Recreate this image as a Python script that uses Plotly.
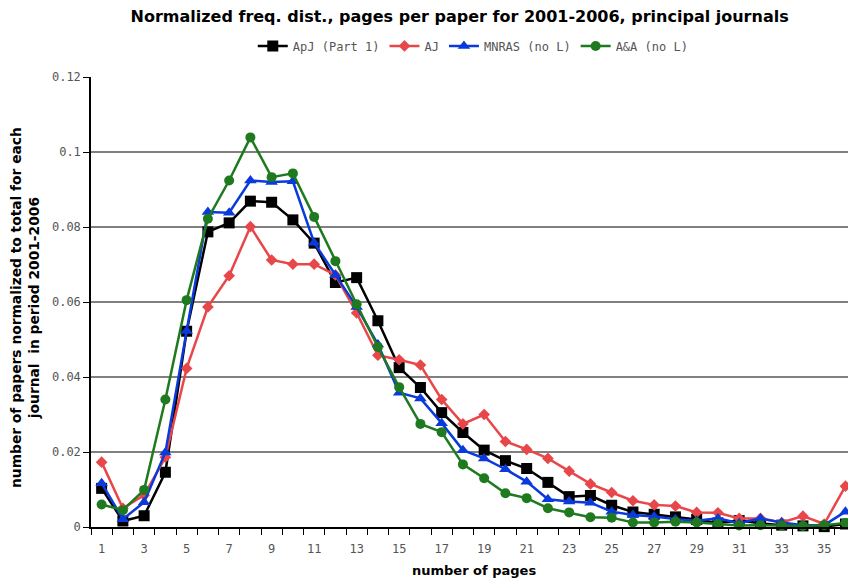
import plotly.graph_objects as go

pages = list(range(1, 37))

apj = [0.0103, 0.0016, 0.0030, 0.0146, 0.0522, 0.0787, 0.0811, 0.0869, 0.0866, 0.0819,
       0.0757, 0.0652, 0.0665, 0.0550, 0.0425, 0.0372, 0.0305, 0.0252, 0.0205, 0.0177,
       0.0156, 0.0119, 0.0081, 0.0084, 0.0058, 0.0040, 0.0034, 0.0027, 0.0020, 0.0011,
       0.0017, 0.0010, 0.0005, 0.0003, 0.0001, 0.0008]
aj = [0.0173, 0.0050, 0.0085, 0.0186, 0.0423, 0.0587, 0.0670, 0.0801, 0.0712, 0.0701,
      0.0701, 0.0672, 0.0571, 0.0458, 0.0446, 0.0432, 0.0340, 0.0275, 0.0300, 0.0228,
      0.0207, 0.0183, 0.0149, 0.0115, 0.0092, 0.0070, 0.0059, 0.0056, 0.0039, 0.0038,
      0.0023, 0.0023, 0.0012, 0.0029, 0.0008, 0.0109]
mnras = [0.0117, 0.0021, 0.0066, 0.0199, 0.0523, 0.0840, 0.0838, 0.0924, 0.0920, 0.0922,
         0.0758, 0.0672, 0.0587, 0.0487, 0.0358, 0.0343, 0.0277, 0.0205, 0.0183, 0.0154,
         0.0121, 0.0074, 0.0068, 0.0065, 0.0041, 0.0032, 0.0028, 0.0021, 0.0017, 0.0023,
         0.0010, 0.0023, 0.0012, 0.0005, 0.0005, 0.0041]
aa = [0.0060, 0.0045, 0.0099, 0.0340, 0.0605, 0.0822, 0.0924, 0.1039, 0.0933, 0.0943,
      0.0827, 0.0709, 0.0594, 0.0480, 0.0373, 0.0275, 0.0253, 0.0167, 0.0130, 0.0090,
      0.0077, 0.0050, 0.0039, 0.0026, 0.0025, 0.0012, 0.0012, 0.0014, 0.0012, 0.0008,
      0.0004, 0.0005, 0.0004, 0.0003, 0.0005, 0.0011]

x_tick_vals = list(range(1, 36, 2))
y_tick_vals = [0, 0.02, 0.04, 0.06, 0.08, 0.1, 0.12]
y_tick_text = ["0", "0.02", "0.04", "0.06", "0.08", "0.1", "0.12"]
y_grid_vals = [0.02, 0.04, 0.06, 0.08, 0.1]
boundaries = [p - 0.5 for p in range(1, 38)]

series = [
    ("ApJ (Part 1)", apj, "#000000", "square", 11),
    ("AJ", aj, "#E8474A", "diamond", 9),
    ("MNRAS (no L)", mnras, "#0A3ADB", "triangle-up", 11),
    ("A&A (no L)", aa, "#1F7A1F", "circle", 10),
]

fig = go.Figure()
for name, vals, col, sym, sz in series:
    fig.add_trace(go.Scatter(
        x=pages, y=vals, name=name, mode="lines+markers",
        line=dict(color=col, width=2.5),
        marker=dict(symbol=sym, size=sz, color=col),
        cliponaxis=False,
    ))

mono = "DejaVu Sans Mono"
bold = "DejaVu Sans"
fig.update_layout(
    width=848, height=582,
    margin=dict(l=91, r=0, t=77, b=55),
    plot_bgcolor="white", paper_bgcolor="white",
    showlegend=True,
    legend=dict(orientation="h", x=0.505, xanchor="center", y=1.069, yanchor="middle",
                font=dict(family=mono, size=12, color="#555555"),
                itemwidth=30, tracegroupgap=0, bgcolor="rgba(0,0,0,0)"),
    title=dict(text="<b>Normalized freq. dist., pages per paper for 2001-2006, principal journals</b>",
               x=0.542, xref="container", xanchor="center",
               y=1 - 16 / 582, yref="container", yanchor="middle",
               font=dict(family=bold, size=16, color="#000000")),
    xaxis=dict(range=[0.5, 36.12], showgrid=False, zeroline=False,
               showline=True, linecolor="#000000", linewidth=1.5,
               tickmode="array", tickvals=x_tick_vals,
               ticks="outside", ticklen=10, tickcolor="rgba(0,0,0,0)",
               tickfont=dict(family=mono, size=12, color="#555555"),
               minor=dict(tickmode="array", tickvals=boundaries, ticks="outside",
                          ticklen=6, tickwidth=1.2, tickcolor="#000000", showgrid=False)),
    yaxis=dict(range=[0, 0.12], showgrid=False, zeroline=False,
               showline=True, linecolor="#000000", linewidth=1.5,
               tickmode="array", tickvals=y_tick_vals, ticktext=y_tick_text,
               ticks="outside", ticklen=6, tickwidth=1.2, tickcolor="#000000",
               tickfont=dict(family=mono, size=12, color="#555555"),
               minor=dict(tickmode="array", tickvals=y_grid_vals, showgrid=True,
                          gridcolor="#808080", gridwidth=1.5, ticks="")),
    annotations=[
        dict(text="<b>number of pages</b>", xref="paper", yref="paper",
             x=(474 - 91) / 757, y=-(570 - 527) / 450, xanchor="center", yanchor="middle",
             showarrow=False, font=dict(family=bold, size=13, color="#000000")),
        dict(text="<b>number of papers normalized to total for each<br>journal  in period 2001-2006</b>",
             xref="paper", yref="paper", x=-(91 - 25) / 757, y=(527 - 308) / 450,
             xanchor="center", yanchor="middle", textangle=-90, showarrow=False,
             font=dict(family=bold, size=13.8, color="#000000")),
    ],
)

fig.write_html("out.html")
